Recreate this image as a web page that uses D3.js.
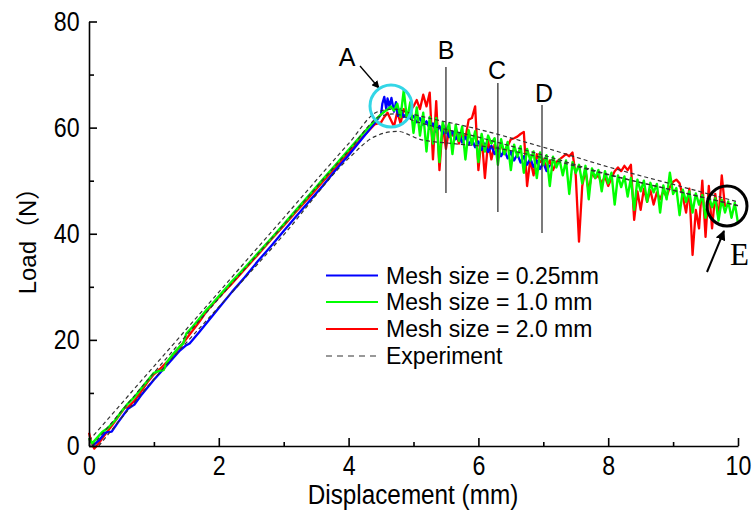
<!DOCTYPE html>
<html><head><meta charset="utf-8">
<script src="https://cdn.jsdelivr.net/npm/d3@7"></script>
<style>body{margin:0;background:#fff}svg{display:block}</style>
</head><body>
<svg id="c" width="754" height="516"></svg>
<script>
// ---------- data ----------
const xTicksMajor = [0, 2, 4, 6, 8, 10];
const xTicksMinor = [1, 3, 5, 7, 9];
const yTicksMajor = [0, 20, 40, 60, 80];
const yTicksMinor = [10, 30, 50, 70];
const seriesNames = ["Mesh size = 0.25mm", "Mesh size = 1.0 mm", "Mesh size = 2.0 mm", "Experiment"];

// rising (elastic) part
const greenRiseX = [0, 0.05, 0.1, 0.2, 0.3, 0.4, 0.5, 0.6, 0.7, 0.8, 0.9, 1.0, 1.05, 1.1, 1.15, 1.2, 1.3, 1.4, 1.45, 1.5, 1.6, 1.7, 1.8, 1.9, 2.0, 2.2, 2.4, 2.6, 2.8, 3.0, 3.2, 3.4, 3.6, 3.8, 4.0, 4.2, 4.4];
const greenRiseY = [1.5, 0.5, 1.2, 2.6, 3.5, 4.8, 6.5, 8.0, 9.2, 10.8, 12.3, 13.8, 14.0, 14.2, 14.3, 15.8, 17.4, 18.8, 19.3, 21.2, 22.5, 24.0, 25.5, 26.8, 28.2, 31.0, 33.6, 36.3, 39.0, 41.8, 44.6, 47.4, 50.2, 53.0, 55.8, 58.6, 61.3];
const redRiseX = [0, 0.03, 0.08, 0.15, 0.25, 0.35, 0.45, 0.55, 0.6, 0.7, 0.8, 0.9, 1.0, 1.1, 1.2, 1.3, 1.4, 1.5, 1.6, 1.7, 1.8, 1.9, 2.0, 2.2, 2.4, 2.6, 2.8, 3.0, 3.2, 3.4, 3.6, 3.8, 4.0, 4.2, 4.4];
const redRiseY = [2.5, 1.0, -0.5, 0.5, 2.2, 3.8, 5.5, 7.2, 7.3, 8.5, 10.2, 12.0, 13.5, 14.6, 15.8, 17.2, 18.6, 20.2, 21.8, 23.4, 25.2, 26.6, 28.0, 30.6, 33.3, 36.0, 38.8, 41.5, 44.3, 47.0, 49.8, 52.6, 55.3, 58.0, 60.6];
const blueRiseX = [0.05, 0.15, 0.25, 0.35, 0.45, 0.6, 0.7, 0.8, 1.0, 1.2, 1.4, 1.5, 1.55, 1.7, 1.9, 2.0, 2.2, 2.4, 2.6, 2.8, 3.0, 3.2, 3.4, 3.6, 3.8, 4.0, 4.2, 4.4, 4.5];
const blueRiseY = [0, 1.0, 2.5, 2.7, 4.5, 7.0, 7.8, 9.5, 12.5, 15.2, 18.0, 19.0, 19.3, 21.5, 24.5, 26.0, 29.0, 31.8, 34.8, 37.6, 40.5, 43.4, 46.2, 49.0, 52.0, 54.8, 57.8, 60.8, 62.5];

// softening part, sampled every 0.05 mm from 4.5 mm
const greenSoftY = [62.5, 63.0, 63.4, 64.0, 63.2, 64.5, 62.0, 67.0, 61.5, 64.8,
  59.0, 63.8, 58.5, 62.8, 55.5, 62.0, 57.0, 61.8, 53.5, 61.0,
  59.0, 60.8, 55.0, 60.5, 57.5, 60.2, 54.0, 59.5, 56.8, 59.3,
  53.5, 58.8, 55.5, 58.5, 57.0, 58.0, 53.0, 57.8, 55.0, 57.3,
  52.0, 56.8, 54.5, 56.5, 51.5, 56.0, 53.8, 55.5, 50.5, 55.3,
  53.0, 54.8, 49.0, 54.5, 52.5, 54.0, 51.0, 53.8, 47.5, 53.5,
  51.5, 53.0, 49.5, 52.8, 46.5, 52.3, 50.5, 52.0, 48.0, 51.8,
  49.5, 51.5, 45.5, 51.0, 48.8, 50.8, 47.0, 50.5, 44.5, 50.2,
  48.0, 50.0, 46.0, 49.6, 47.8, 49.4, 44.0, 49.1, 46.5, 51.5,
  47.5, 48.6, 43.5, 48.3, 46.0, 48.0, 44.0, 47.6, 45.5, 47.3,
  43.0, 47.0, 45.0, 46.7, 42.5, 46.4, 44.0, 46.1, 43.0, 45.8, 42.0];
const redSoftY = [61.0, 62.0, 62.8, 61.5, 60.2, 63.0, 60.8, 63.5, 62.5, 63.2,
  64.0, 65.2, 63.5, 66.2, 64.0, 66.6, 54.0, 65.0, 52.0, 60.5,
  56.0, 59.8, 58.5, 59.5, 57.0, 59.0, 58.0, 61.5, 61.8, 64.0,
  52.0, 58.5, 50.5, 57.5, 54.0, 56.8, 55.5, 57.0, 55.0, 56.5,
  57.8, 58.0, 58.3, 58.8, 59.2, 49.0, 54.0, 51.0, 55.0, 53.5,
  54.0, 52.5, 53.8, 52.0, 53.5, 54.0, 54.5, 55.0, 54.6, 55.3,
  51.0, 38.5, 49.0, 52.0, 48.0, 51.5, 50.5, 51.0, 49.5, 50.8,
  49.0, 50.5, 51.8, 52.5, 51.8, 52.8, 52.0, 53.0, 42.6, 48.0,
  44.5, 48.5, 46.0, 48.2, 45.5, 47.8, 46.5, 48.0, 47.0, 48.8,
  49.8, 50.2, 49.5, 47.0, 44.0, 48.5, 36.0, 44.5, 41.0, 50.0,
  39.4, 49.0, 41.0, 47.5, 43.0, 51.0, 45.0];
const blueSoftX = [4.52, 4.55, 4.58, 4.6, 4.63, 4.66, 4.7, 4.73, 4.76, 4.8, 4.85, 4.9, 4.95, 5.0,
  5.05, 5.1, 5.15, 5.2, 5.25, 5.3, 5.35, 5.4, 5.45, 5.5, 5.55, 5.6, 5.65, 5.7, 5.75, 5.8, 5.85, 5.9, 5.95, 6.0,
  6.05, 6.1, 6.15, 6.2, 6.25, 6.3, 6.35, 6.4, 6.45, 6.5, 6.55, 6.6, 6.65, 6.7, 6.75, 6.8, 6.85, 6.9, 6.95, 7.0, 7.05, 7.1];
const blueSoftY = [64.5, 65.8, 63.5, 65.5, 64.0, 65.6, 63.0, 64.8, 62.2, 63.5, 62.0, 62.8, 61.8, 62.2,
  61.0, 61.8, 60.5, 61.2, 59.8, 60.8, 59.2, 60.3, 58.8, 59.8, 58.2, 59.3, 57.8, 58.8, 57.2, 58.3, 56.8, 57.8, 56.3, 57.4,
  55.8, 57.0, 55.4, 56.6, 55.0, 56.2, 54.6, 55.8, 54.2, 55.4, 53.8, 55.0, 53.4, 54.6, 53.0, 54.2, 52.6, 53.8, 52.2, 53.4, 51.8, 53.0];

// experiments (three specimens)
const expAX = [0, 0.5, 1, 2, 3, 4, 4.45, 4.7, 5, 6, 7, 8, 9, 10];
const expAY = [1, 8, 15, 29, 43, 57, 63, 63.5, 62.5, 59.7, 56.3, 52.6, 49.3, 46];
const expBX = [0.05, 1, 2, 3, 4, 4.5, 4.7, 5, 6, 7, 8, 9, 10];
const expBY = [0, 13.8, 27.8, 41.7, 55.6, 62.2, 62.6, 61.3, 58.2, 54.8, 51.2, 48.2, 45.3];
const expCX = [0.15, 1, 2, 3, 4, 4.4, 4.75, 5.1, 5.6, 6.2, 7, 8, 9, 10];
const expCY = [0, 12.6, 26.2, 39.8, 54.2, 58.3, 59.3, 57.8, 57, 56.3, 54.3, 51.1, 48.2, 45.3];

// ---------- drawing ----------
const svg = d3.select("#c");
const x = d3.scaleLinear().domain([0, 10]).range([89, 738]);
const y = d3.scaleLinear().domain([0, 80]).range([446, 21.5]);
const zip = (xs, ys) => xs.map((v, i) => [v, ys[i]]);
const softX = d3.range(0, greenSoftY.length).map(i => +(4.5 + i * 0.05).toFixed(2));
const line = d3.line().x(d => x(d[0])).y(d => y(d[1]));
const smooth = d3.line().x(d => x(d[0])).y(d => y(d[1])).curve(d3.curveMonotoneX);

const green = zip(greenRiseX, greenRiseY).concat(zip(softX, greenSoftY));
const red = zip(redRiseX, redRiseY).concat(zip(softX.slice(0, redSoftY.length), redSoftY));
const blue = zip(blueRiseX, blueRiseY).concat(zip(blueSoftX, blueSoftY));

svg.append("path").attr("d", line(red)).attr("fill", "none").attr("stroke", "#ff0000").attr("stroke-width", 2.3).attr("stroke-linejoin", "round");
svg.append("path").attr("d", line(blue)).attr("fill", "none").attr("stroke", "#0000ff").attr("stroke-width", 2.3).attr("stroke-linejoin", "round");
svg.append("path").attr("d", line(green)).attr("fill", "none").attr("stroke", "#00ff00").attr("stroke-width", 2.4).attr("stroke-linejoin", "round");
[[expAX, expAY], [expBX, expBY], [expCX, expCY]].forEach(([xs, ys]) => {
  svg.append("path").attr("d", smooth(zip(xs, ys)))
    .attr("fill", "none").attr("stroke", "#333").attr("stroke-width", 1.2)
    .attr("stroke-dasharray", "4,3");
});

// axes
const font = "'Liberation Sans', Arial, sans-serif";
svg.append("g").attr("transform", "translate(0,446)")
  .call(d3.axisBottom(x).tickValues(xTicksMajor).tickSizeInner(-8).tickSizeOuter(0).tickPadding(10).tickFormat(d3.format("d")));
svg.append("g").attr("transform", "translate(0,446)")
  .call(d3.axisBottom(x).tickValues(xTicksMinor).tickSizeInner(-4).tickSizeOuter(0).tickFormat(""))
  .select(".domain").remove();
svg.append("g").attr("transform", "translate(89,0)")
  .call(d3.axisLeft(y).tickValues(yTicksMajor).tickSizeInner(-8).tickSizeOuter(0).tickPadding(11));
svg.append("g").attr("transform", "translate(89,0)")
  .call(d3.axisLeft(y).tickValues(yTicksMinor).tickSizeInner(-5).tickSizeOuter(0).tickFormat(""))
  .select(".domain").remove();
svg.selectAll(".domain, .tick line").attr("stroke", "#000").attr("stroke-width", 1.6);
svg.selectAll(".tick text").attr("font-family", font).attr("font-size", 27).attr("fill", "#000")
  .attr("transform", "scale(0.86,1)");

svg.append("text").attr("transform", "translate(413,504) scale(0.9,1)").attr("text-anchor", "middle")
  .attr("font-family", font).attr("font-size", 27).text("Displacement (mm)");
svg.append("text").attr("transform", "translate(36,235) rotate(-90)").attr("text-anchor", "middle")
  .attr("font-family", "'Liberation Sans', 'Noto Sans CJK JP', sans-serif").attr("font-size", 24).text("Load（N）");

// legend
const legColors = ["#0000ff", "#00ff00", "#ff0000", "#333"];
const legY = [275.5, 302, 329, 356];
seriesNames.forEach((n, i) => {
  svg.append("line").attr("x1", 326).attr("x2", 378).attr("y1", legY[i]).attr("y2", legY[i])
    .attr("stroke", legColors[i]).attr("stroke-width", i === 3 ? 1.2 : 2)
    .attr("stroke-dasharray", i === 3 ? "6,5" : null);
  svg.append("text").attr("x", 386).attr("y", legY[i] + 8).attr("font-family", font)
    .attr("font-size", 23).text(n);
});

// annotations
const ann = svg.append("g").attr("font-family", font).attr("font-size", 25);
ann.append("text").attr("x", 347).attr("y", 66).attr("text-anchor", "middle").text("A");
ann.append("text").attr("x", 446).attr("y", 59).attr("text-anchor", "middle").text("B");
ann.append("text").attr("x", 497).attr("y", 79).attr("text-anchor", "middle").text("C");
ann.append("text").attr("x", 544).attr("y", 102).attr("text-anchor", "middle").text("D");
const vl = [[x(5.5), 67, 193], [x(6.3), 83, 212], [x(6.98), 105, 233]];
vl.forEach(([xx, y1, y2]) => svg.append("line").attr("x1", xx).attr("x2", xx).attr("y1", y1).attr("y2", y2)
  .attr("stroke", "#333").attr("stroke-width", 1.3));
svg.append("defs").html('<marker id="ah" viewBox="0 0 10 10" refX="9" refY="5" markerWidth="6" markerHeight="6" orient="auto"><path d="M0,0L10,5L0,10z" fill="#000"/></marker><marker id="ah2" viewBox="0 0 10 10" refX="9" refY="5" markerWidth="5" markerHeight="5" orient="auto"><path d="M0,0L10,5L0,10z" fill="#000"/></marker>');
svg.append("line").attr("x1", 360).attr("y1", 66).attr("x2", 379).attr("y2", 88)
  .attr("stroke", "#000").attr("stroke-width", 1.3).attr("marker-end", "url(#ah)");
svg.append("circle").attr("cx", 391).attr("cy", 106).attr("r", 21).attr("fill", "none")
  .attr("stroke", "#33d6e6").attr("stroke-width", 3);
svg.append("circle").attr("cx", 727).attr("cy", 206).attr("r", 20).attr("fill", "none")
  .attr("stroke", "#000").attr("stroke-width", 3);
svg.append("line").attr("x1", 707).attr("y1", 272).attr("x2", 724).attr("y2", 231)
  .attr("stroke", "#000").attr("stroke-width", 2).attr("marker-end", "url(#ah2)");
svg.append("text").attr("x", 730).attr("y", 265).attr("font-family", "'Liberation Serif', 'Times New Roman', serif")
  .attr("font-size", 31).text("E");
</script>
</body></html>
